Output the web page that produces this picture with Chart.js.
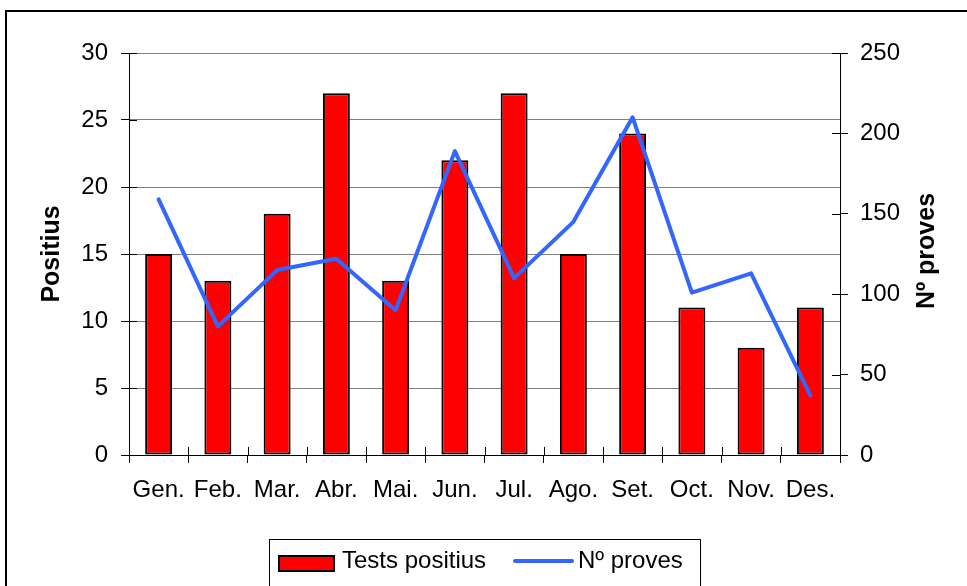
<!DOCTYPE html>
<html>
<head>
<meta charset="utf-8">
<script src="https://cdn.jsdelivr.net/npm/chart.js@4/dist/chart.umd.min.js"></script>
<style>
html,body{margin:0;padding:0;background:#fff;}
canvas{display:block;}
</style>
</head>
<body>
<canvas id="c" width="967" height="586"></canvas>
<script>
const months = ['Gen.','Feb.','Mar.','Abr.','Mai.','Jun.','Jul.','Ago.','Set.','Oct.','Nov.','Des.'];
const positius = [15,13,18,27,13,22,27,15,24,11,8,11];
const proves = [159,80,115,122,90,189,110,145,210,101,113,37];
const leftAxis = {min:0, max:30, step:5};
const rightAxis = {min:0, max:250, step:50};
const barLabel = 'Tests positius';
const lineLabel = 'Nº proves';
const leftTitle = 'Positius';
const rightTitle = 'Nº proves';

const FONT = "'Liberation Sans', Arial, sans-serif";
Chart.defaults.font.family = FONT;
Chart.defaults.font.size = 24;
Chart.defaults.color = '#000';

const decor = {
  id:'decor',
  beforeDraw(chart){
    const c = chart.ctx;
    c.save();
    c.fillStyle = '#fff';
    c.fillRect(0,0,chart.width,chart.height);
    c.strokeStyle = '#000';
    c.lineWidth = 2;
    c.strokeRect(6,11,1000,1000);
    c.restore();
  },
  afterDatasetsDraw(chart){
    const c = chart.ctx;
    const xs = chart.scales.x, yl = chart.scales.y, yr = chart.scales.y1;
    const a = chart.chartArea;
    c.save();
    c.strokeStyle = '#000';
    c.lineWidth = 1;
    c.beginPath();
    const n = months.length;
    const w = (xs.right - xs.left) / n;
    for (let i = 1; i < n; i++) {
      const px = Math.round(xs.left + i*w) + 0.5;
      c.moveTo(px, a.bottom);
      c.lineTo(px, a.bottom - 8);
    }
    for (let v = rightAxis.min; v <= rightAxis.max; v += rightAxis.step) {
      const py = Math.round(yr.getPixelForValue(v)) + 0.5;
      c.moveTo(a.right, py);
      c.lineTo(a.right - 8, py);
    }
    for (let v = leftAxis.min + leftAxis.step; v <= leftAxis.max; v += leftAxis.step) {
      const py = Math.round(yl.getPixelForValue(v)) + 0.5;
      c.moveTo(a.left, py);
      c.lineTo(a.left + 8, py);
    }
    c.stroke();
    c.restore();
  },
  afterDraw(chart){
    const c = chart.ctx;
    c.save();
    // right title
    c.save();
    c.translate(927, 251);
    c.rotate(-Math.PI/2);
    c.font = "bold 25px " + FONT;
    c.fillStyle = '#000';
    c.textAlign = 'center';
    c.textBaseline = 'middle';
    c.fillText(rightTitle, 0, 0);
    c.restore();
    // legend
    const ds = chart.data.datasets;
    const bar = ds.find(d => d.type === 'bar');
    const line = ds.find(d => d.type === 'line');
    c.fillStyle = '#fff';
    c.fillRect(270, 540, 430, 60);
    c.strokeStyle = '#000';
    c.lineWidth = 1;
    c.strokeRect(269.5, 539.5, 431, 80);
    c.fillStyle = bar.backgroundColor;
    c.fillRect(278, 555, 57, 17);
    c.strokeStyle = '#000';
    c.lineWidth = 2;
    c.strokeRect(279, 556, 55, 15);
    c.font = "24px " + FONT;
    c.fillStyle = '#000';
    c.textAlign = 'left';
    c.textBaseline = 'middle';
    c.fillText(bar.label, 342, 561);
    c.strokeStyle = line.borderColor;
    c.lineWidth = 4;
    c.lineCap = 'round';
    c.beginPath();
    c.moveTo(515, 561);
    c.lineTo(572, 561);
    c.stroke();
    c.fillStyle = '#000';
    c.fillText(line.label, 578, 561);
    c.restore();
  }
};

new Chart(document.getElementById('c'), {
  type: 'bar',
  data: {
    labels: months,
    datasets: [
      {type:'line', label: lineLabel, data: proves, yAxisID:'y1', borderColor:'#3366ff', borderWidth:4,
       pointRadius:0, tension:0, fill:false, order:0, borderCapStyle:'round', borderJoinStyle:'round'},
      {type:'bar', label: barLabel, data: positius, yAxisID:'y', backgroundColor:'#ff0000', borderColor:'#000',
       borderWidth:2, borderSkipped:false, categoryPercentage:1, barPercentage:0.455, order:1}
    ]
  },
  options: {
    responsive:false,
    animation:false,
    layout:{padding:{top:53,left:0,right:0,bottom:0}},
    plugins:{legend:{display:false}, tooltip:{enabled:false}},
    scales:{
      x:{
        grid:{offset:true, drawOnChartArea:false, tickLength:8, color:'#000', tickColor:'#000'},
        border:{color:'#000', width:1},
        ticks:{maxRotation:0, minRotation:0, autoSkip:false, padding:13},
        afterFit(s){ s.height = 131; }
      },
      y:{
        position:'left', min:leftAxis.min, max:leftAxis.max,
        ticks:{stepSize:leftAxis.step, padding:13},
        grid:{color:'#808080', tickColor:'#000', tickLength:8},
        border:{color:'#000', width:1},
        title:{display:true, text:leftTitle, font:{size:25, weight:'bold'}, padding:{top:37,bottom:0}},
        afterFit(s){ s.width = 129; }
      },
      y1:{
        position:'right', min:rightAxis.min, max:rightAxis.max,
        ticks:{stepSize:rightAxis.step, padding:12},
        grid:{drawOnChartArea:false, color:'#000', tickColor:'#000', tickLength:8},
        border:{color:'#000', width:1},
        afterFit(s){ s.width = 127; }
      }
    }
  },
  plugins:[decor]
});
</script>
</body>
</html>
